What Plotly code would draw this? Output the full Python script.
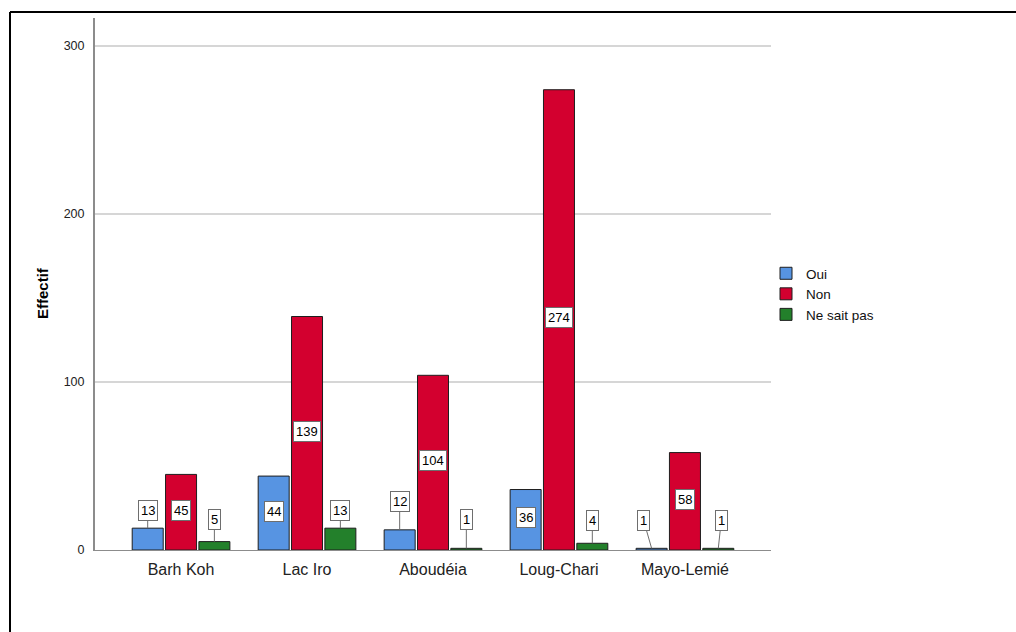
import plotly.graph_objects as go

# Survey counts by region and answer
regions = ["Barh Koh", "Lac Iro", "Aboudéia", "Loug-Chari", "Mayo-Lemié"]
oui = [13, 44, 12, 36, 1]
non = [45, 139, 104, 274, 58]
ne_sait_pas = [5, 13, 1, 4, 1]
y_ticks = [0, 100, 200, 300]

series = [
    ("Oui", oui, "#5794E2"),
    ("Non", non, "#D3002F"),
    ("Ne sait pas", ne_sait_pas, "#23802B"),
]

BARGAP = 0.206
GROUPGAP = 0.07
FONT = "Liberation Sans, Arial, sans-serif"

fig = go.Figure()
for name, vals, color in series:
    fig.add_trace(go.Bar(
        name=name, x=regions, y=vals,
        marker=dict(color=color, line=dict(color="#1e1e1e", width=1)),
        hoverinfo="x+y+name",
    ))

# Value labels: inside the bar at mid-height, or in a callout above short bars
slot = (1 - BARGAP) / len(series)
callout_offsets = {  # (series index, region index) -> (dx, dy) in px
    (0, 0): (0, -18), (2, 0): (0, -22),
    (2, 1): (0, -18),
    (0, 2): (0, -28), (2, 2): (0, -29),
    (2, 3): (0, -23),
    (0, 4): (-8, -28), (2, 4): (3, -28),
}
annotations = []
for si, (name, vals, color) in enumerate(series):
    for ri, v in enumerate(vals):
        xpos = ri + (si - (len(series) - 1) / 2) * slot
        common = dict(
            x=xpos, xref="x", yref="y", text=str(v),
            font=dict(family=FONT, size=13, color="#000"),
            bgcolor="#ffffff", bordercolor="#6e6e6e", borderwidth=1, borderpad=2,
        )
        if (si, ri) in callout_offsets:
            dx, dy = callout_offsets[(si, ri)]
            annotations.append(dict(
                y=v, showarrow=True, arrowhead=0, arrowwidth=1, arrowcolor="#6e6e6e",
                ax=dx, ay=dy, standoff=0, **common))
        else:
            annotations.append(dict(y=v / 2, showarrow=False, yshift=2, **common))

# plot area geometry (pixels)
W, H = 1016, 632
L, R, T, B = 95, 245, 18, 82
pw, ph = W - L - R, H - T - B

# y-axis title, placed as a rotated label
annotations.append(dict(
    text="<b>Effectif</b>", textangle=-90, showarrow=False,
    xref="paper", yref="paper", x=(42 - L) / pw, y=(H - B - 293) / ph,
    xanchor="center", yanchor="middle",
    font=dict(family=FONT, size=15, color="#000"),
))

frame_x = (10 - L) / pw
frame_y = (H - B - 12) / ph
fig.update_layout(
    width=W, height=H,
    margin=dict(l=L, r=R, t=T, b=B, pad=0),
    paper_bgcolor="#ffffff", plot_bgcolor="#ffffff",
    barmode="group", bargap=BARGAP, bargroupgap=GROUPGAP,
    font=dict(family=FONT, size=12, color="#222"),
    showlegend=True,
    legend=dict(
        x=(766 - L) / pw, xanchor="left", y=(H - B - 258) / ph, yanchor="top",
        font=dict(family=FONT, size=13.5, color="#111"),
        itemwidth=30, tracegroupgap=0, bgcolor="rgba(0,0,0,0)",
    ),
    annotations=annotations,
    shapes=[
        dict(type="line", xref="paper", yref="paper",
             x0=frame_x, x1=frame_x, y0=-0.4, y1=frame_y,
             line=dict(color="#000", width=2), layer="above"),
        dict(type="line", xref="paper", yref="paper",
             x0=frame_x, x1=1.6, y0=frame_y, y1=frame_y,
             line=dict(color="#000", width=2), layer="above"),
    ],
)
fig.update_xaxes(
    type="category", range=[-0.683, len(regions) - 1 + 0.683],
    showline=True, linecolor="#8c8c8c", linewidth=1,
    showgrid=False, ticks="", ticklabelstandoff=5,
    tickfont=dict(family=FONT, size=16, color="#222"), zeroline=False,
)
fig.update_yaxes(
    range=[0, 316.7], tickvals=y_ticks,
    showline=True, linecolor="#8c8c8c", linewidth=2,
    showgrid=True, gridcolor="#d6d6d6", gridwidth=1.5, zeroline=False,
    ticks="", ticklabelstandoff=6,
    tickfont=dict(family=FONT, size=12.5, color="#222"),
)

fig.write_html("out.html")
